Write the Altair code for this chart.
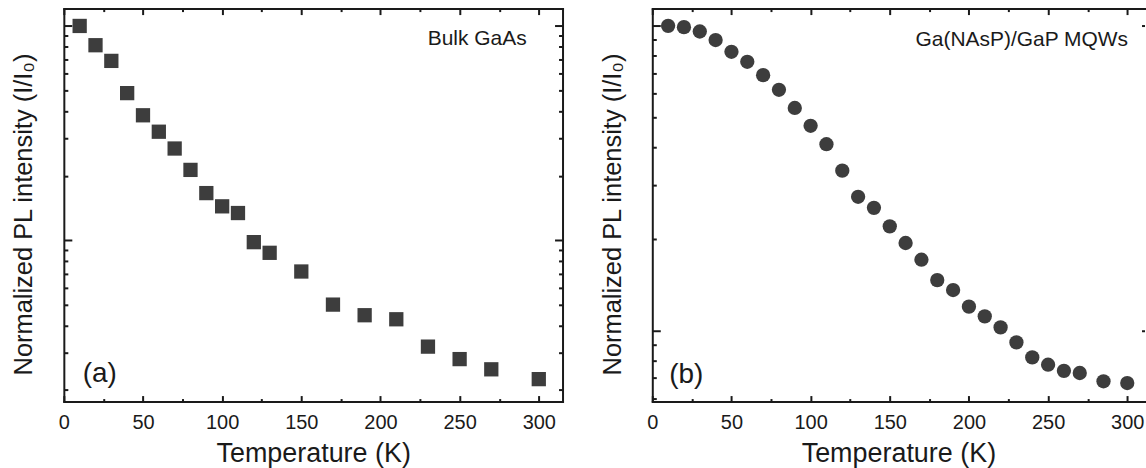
import altair as alt
import pandas as pd

# ---- data ----
temp_a = [10, 20, 30, 40, 50, 60, 70, 80, 90, 100, 110, 120, 130, 150, 170, 190, 210, 230, 250, 270, 300]
int_a = [1.0, 0.813, 0.687, 0.486, 0.383, 0.321, 0.268, 0.213, 0.166, 0.144, 0.134, 0.098, 0.0874,
         0.0715, 0.0501, 0.0447, 0.0428, 0.0319, 0.0279, 0.0250, 0.0225]

temp_b = [10, 20, 30, 40, 50, 60, 70, 80, 90, 100, 110, 120, 130, 140, 150, 160, 170, 180, 190,
          200, 210, 220, 230, 240, 250, 260, 270, 285, 300]
int_b = [1.0, 0.99, 0.958, 0.898, 0.822, 0.762, 0.689, 0.617, 0.538, 0.470, 0.409, 0.335, 0.275,
         0.253, 0.220, 0.194, 0.171, 0.1466, 0.136, 0.120, 0.1115, 0.1026, 0.0916, 0.0818, 0.0774,
         0.0739, 0.0727, 0.0683, 0.0674]

x_major = [0, 50, 100, 150, 200, 250, 300]
x_minor = [25, 75, 125, 175, 225, 275]
y_major = [0.1, 1.0]
y_minor_a = [0.02, 0.03, 0.04, 0.05, 0.06, 0.07, 0.08, 0.09, 0.2, 0.3, 0.4, 0.5, 0.6, 0.7, 0.8, 0.9]
y_minor_b = [0.06, 0.07, 0.08, 0.09, 0.2, 0.3, 0.4, 0.5, 0.6, 0.7, 0.8, 0.9]

ydom_a = [0.01768, 1.205]
ydom_b = [0.0586, 1.139]
xdom_a = [0, 315]
xdom_b = [0, 310.9]   # right part of panel (b) lies outside the picture

W_A, W_B, H = 500, 493.5, 394
FONT = "Liberation Sans"
INK = "#1a1a1a"
MARK = "#3d3d3d"


def panel(temps, vals, shape, W, xdom, ydom, yminor, tag, note, note_x, note_y, tag_x, tag_y,
          right_frame, right_major, right_minor):
    df = pd.DataFrame({"T": temps, "I": vals})
    xs = alt.Scale(domain=xdom, nice=False, zero=False)
    ys = alt.Scale(type="log", domain=ydom, nice=False)
    base = alt.Chart(df)
    frame = dict(domainColor=INK, domainWidth=2, domainCap="square")

    main = base.mark_point(shape=shape, filled=True, size=205, color=MARK, opacity=1).encode(
        x=alt.X("T:Q", scale=xs, axis=alt.Axis(
            orient="bottom", values=x_major, format="d", ticks=False, tickSize=0, domain=True,
            grid=False, labelFontSize=20, labelPadding=11, labelFont=FONT, labelColor=INK,
            labelFlush=False, title="Temperature (K)", titleFont=FONT, titleFontSize=27,
            titleFontWeight="normal", titleColor=INK, titleBaseline="alphabetic", titleY=60.5,
            **frame)),
        y=alt.Y("I:Q", scale=ys, axis=alt.Axis(
            orient="left", labels=False, ticks=False, tickSize=0, domain=True, grid=False,
            title="Normalized PL intensity (I/I₀)", titleFont=FONT, titleFontSize=25.5,
            titleFontWeight="normal", titleColor=INK, titleBaseline="alphabetic",
            titleAngle=270, titleX=-32, titleY=206, **frame)),
    )

    def ticks(xvals, xsize, xorient, xdomain, yvals, ysize, yorient, ydomain):
        return base.mark_point(opacity=0).encode(
            x=alt.X("T:Q", scale=xs, axis=alt.Axis(
                orient=xorient, offset=-H, values=xvals, labels=False, domain=xdomain, grid=False,
                ticks=True, tickSize=xsize, tickWidth=2, tickColor=INK, title=None, **frame)),
            y=alt.Y("I:Q", scale=ys, axis=alt.Axis(
                orient=yorient, offset=-W, values=yvals, labels=False, domain=ydomain, grid=False,
                ticks=True, tickSize=ysize, tickWidth=2, tickColor=INK, title=None, **frame)),
        )

    t1 = ticks(x_major, 6, "top", False, y_major, 8, "right", False)      # bottom / left, inward
    t2 = ticks(x_minor, 3, "top", False, yminor, 4, "right", False)
    t3 = ticks(x_major, 6, "bottom", True, y_major, right_major, "left", right_frame)  # top / right
    t4 = ticks(x_minor, 3, "bottom", False, yminor, right_minor, "left", False)

    note_layer = alt.Chart(pd.DataFrame({"t": [note]})).mark_text(
        align="right", baseline="alphabetic", fontSize=21, font=FONT, color=INK
    ).encode(text="t:N", x=alt.value(note_x), y=alt.value(note_y))
    tag_layer = alt.Chart(pd.DataFrame({"t": [tag]})).mark_text(
        align="left", baseline="alphabetic", fontSize=28, font=FONT, color=INK
    ).encode(text="t:N", x=alt.value(tag_x), y=alt.value(tag_y))

    layers = [main, t1, t2, t3]
    if right_minor > 0:
        layers.append(t4)
    else:
        layers.append(base.mark_point(opacity=0).encode(
            x=alt.X("T:Q", scale=xs, axis=alt.Axis(
                orient="bottom", offset=-H, values=x_minor, labels=False, domain=False, grid=False,
                ticks=True, tickSize=3, tickWidth=2, tickColor=INK, title=None)),
            y=alt.Y("I:Q", scale=ys, axis=None)))
    layers += [note_layer, tag_layer]

    return alt.layer(*layers).resolve_axis(
        x="independent", y="independent"
    ).properties(width=W, height=H)


pa = panel(temp_a, int_a, "square", W_A, xdom_a, ydom_a, y_minor_a, "(a)", "Bulk GaAs",
           464, 37, 19, 374, True, 8, 4)
pb = panel(temp_b, int_b, "circle", W_B, xdom_b, ydom_b, y_minor_b, "(b)", "Ga(NAsP)/GaP MQWs",
           477, 38, 17, 375, False, 3, 0)

chart = alt.hconcat(pa, pb, spacing=36).properties(
    padding={"left": 11, "top": 7, "right": 0, "bottom": 0}
).configure_view(stroke="transparent", strokeWidth=0).configure_axis(grid=False)

chart.save("out.html", embed_options={"renderer": "svg", "actions": False})
